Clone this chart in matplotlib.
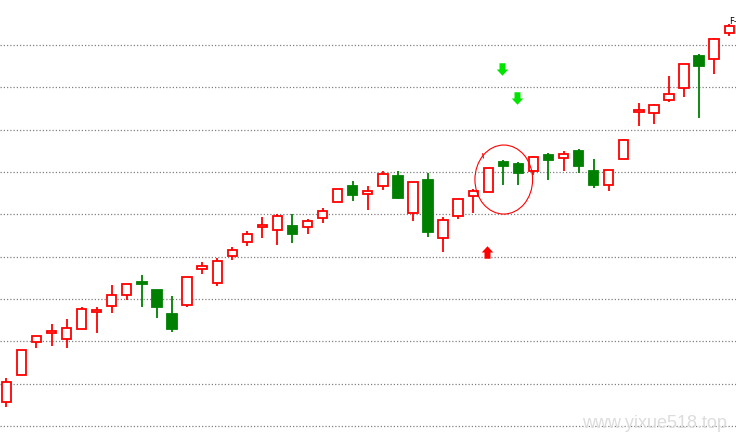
import matplotlib
matplotlib.use("Agg")
import matplotlib.pyplot as plt
from matplotlib.patches import Rectangle, Ellipse
from matplotlib.path import Path

# datos de las velas
opens = [10.56, 11.20, 11.98, 12.19, 12.05, 12.28, 12.69, 12.83, 13.09, 13.39,
         13.21, 12.65, 12.85, 13.70, 13.37, 14.01, 14.34, 14.71, 14.64, 14.72,
         14.71, 14.91, 15.29, 15.66, 15.47, 15.66, 15.91, 15.03, 15.81, 14.45,
         14.95, 15.43, 15.52, 16.24, 16.19, 16.01, 16.40, 16.32, 16.50, 16.02,
         15.69, 16.30, 17.41, 17.39, 17.69, 17.98, 18.74, 18.66, 19.27]
closes = [11.03, 11.79, 12.12, 12.24, 12.31, 12.76, 12.73, 13.09, 13.35, 13.35,
          12.82, 12.28, 13.51, 13.77, 13.89, 14.15, 14.53, 14.74, 14.95, 14.54,
          14.84, 15.07, 15.59, 15.46, 15.55, 15.95, 15.39, 15.76, 14.57, 14.86,
          15.36, 15.55, 16.09, 16.13, 15.98, 16.35, 16.27, 16.42, 16.13, 15.70,
          16.04, 16.75, 17.46, 17.58, 17.84, 18.55, 18.51, 19.14, 19.44]
highs = [11.13, 11.79, 12.12, 12.41, 12.52, 12.80, 12.80, 13.33, 13.35, 13.57,
         13.21, 13.07, 13.51, 13.87, 13.96, 14.22, 14.61, 14.94, 15.01, 15.01,
         14.88, 15.14, 15.59, 15.78, 15.66, 16.02, 16.02, 15.76, 15.98, 14.94,
         15.36, 15.60, 16.09, 16.28, 16.23, 16.38, 16.45, 16.50, 16.54, 16.31,
         16.04, 16.77, 17.63, 17.61, 18.27, 18.55, 18.79, 19.16, 19.50]
lows = [10.46, 11.20, 11.83, 11.90, 11.85, 12.28, 12.20, 12.66, 12.97, 12.82,
        12.56, 12.23, 12.80, 13.60, 13.31, 13.93, 14.26, 14.45, 14.28, 14.31,
        14.54, 14.80, 15.29, 15.32, 15.11, 15.58, 15.35, 14.85, 14.47, 14.12,
        14.89, 15.02, 15.52, 15.70, 15.68, 15.93, 15.82, 16.03, 15.98, 15.61,
        15.54, 16.30, 17.09, 17.14, 17.64, 17.78, 17.28, 18.32, 19.20]

grid_levels = [10, 11, 12, 13, 14, 15, 16, 17, 18, 19]

# senales: (indice de vela, precio)
sell_signals = [(32.93, 18.42), (33.91, 17.74)]
buy_signals = [(31.92, 14.11)]

ROJO = "#ff0000"
VERDE = "#008000"

fig = plt.figure(figsize=(7.36, 4.37), dpi=100)
ax = fig.add_axes([0, 0, 1, 1])
ax.set_xlim(-0.42, 48.45)
ax.set_ylim(9.74, 20.06)
ax.axis("off")

# lineas de rejilla punteadas
for lv in grid_levels:
    ax.axhline(lv, color="#808080", lw=0.9, ls=(0, (1, 1.6)), zorder=0)

ancho = 0.62
for i, (o, c, h, l) in enumerate(zip(opens, closes, highs, lows)):
    sube = c >= o
    col = ROJO if sube else VERDE
    ax.plot([i, i], [l, h], color=col, lw=1.3, zorder=1, solid_capstyle="butt")
    bot = min(o, c)
    alto = max(abs(c - o), 0.02)
    if sube:
        rect = Rectangle((i - ancho / 2, bot), ancho, alto,
                         facecolor="white", edgecolor=col, lw=1.3, zorder=2)
    else:
        rect = Rectangle((i - ancho / 2, bot), ancho, alto,
                         facecolor=col, edgecolor=col, lw=1.3, zorder=2)
    ax.add_patch(rect)

# flechas
abajo = [(-0.24, 0.5), (0.24, 0.5), (0.24, 0.0), (0.46, 0.0), (0.0, -0.5),
         (-0.46, 0.0), (-0.24, 0.0), (-0.24, 0.5)]
arriba = [(x, -y) for x, y in abajo]
flecha_abajo = Path(abajo, closed=True)
flecha_arriba = Path(arriba, closed=True)

for x, y in sell_signals:
    ax.plot(x, y, marker=flecha_abajo, markersize=9, color="#00e400",
            markeredgewidth=0, zorder=3)
for x, y in buy_signals:
    ax.plot(x, y, marker=flecha_arriba, markersize=9, color=ROJO,
            markeredgewidth=0, zorder=3)

# circulo rojo
ax.add_patch(Ellipse((33.03, 15.82), 3.83, 1.63, fill=False,
                     edgecolor=ROJO, lw=0.8, zorder=4))
ax.plot([31.63, 31.68], [16.43, 16.33], color=ROJO, lw=0.8, zorder=4)

# marca arriba a la derecha
fig.text(729 / 736, 1 - 21 / 437, "F-", fontsize=6, color="black",
         ha="left", va="center")

# marca de agua
fig.text(727 / 736, 1 - 428 / 437, "www.yixue518.top", fontsize=13,
         family="Liberation Sans", color="#dcdcdc", ha="right", va="baseline")

fig.savefig("out.png", dpi=100)
